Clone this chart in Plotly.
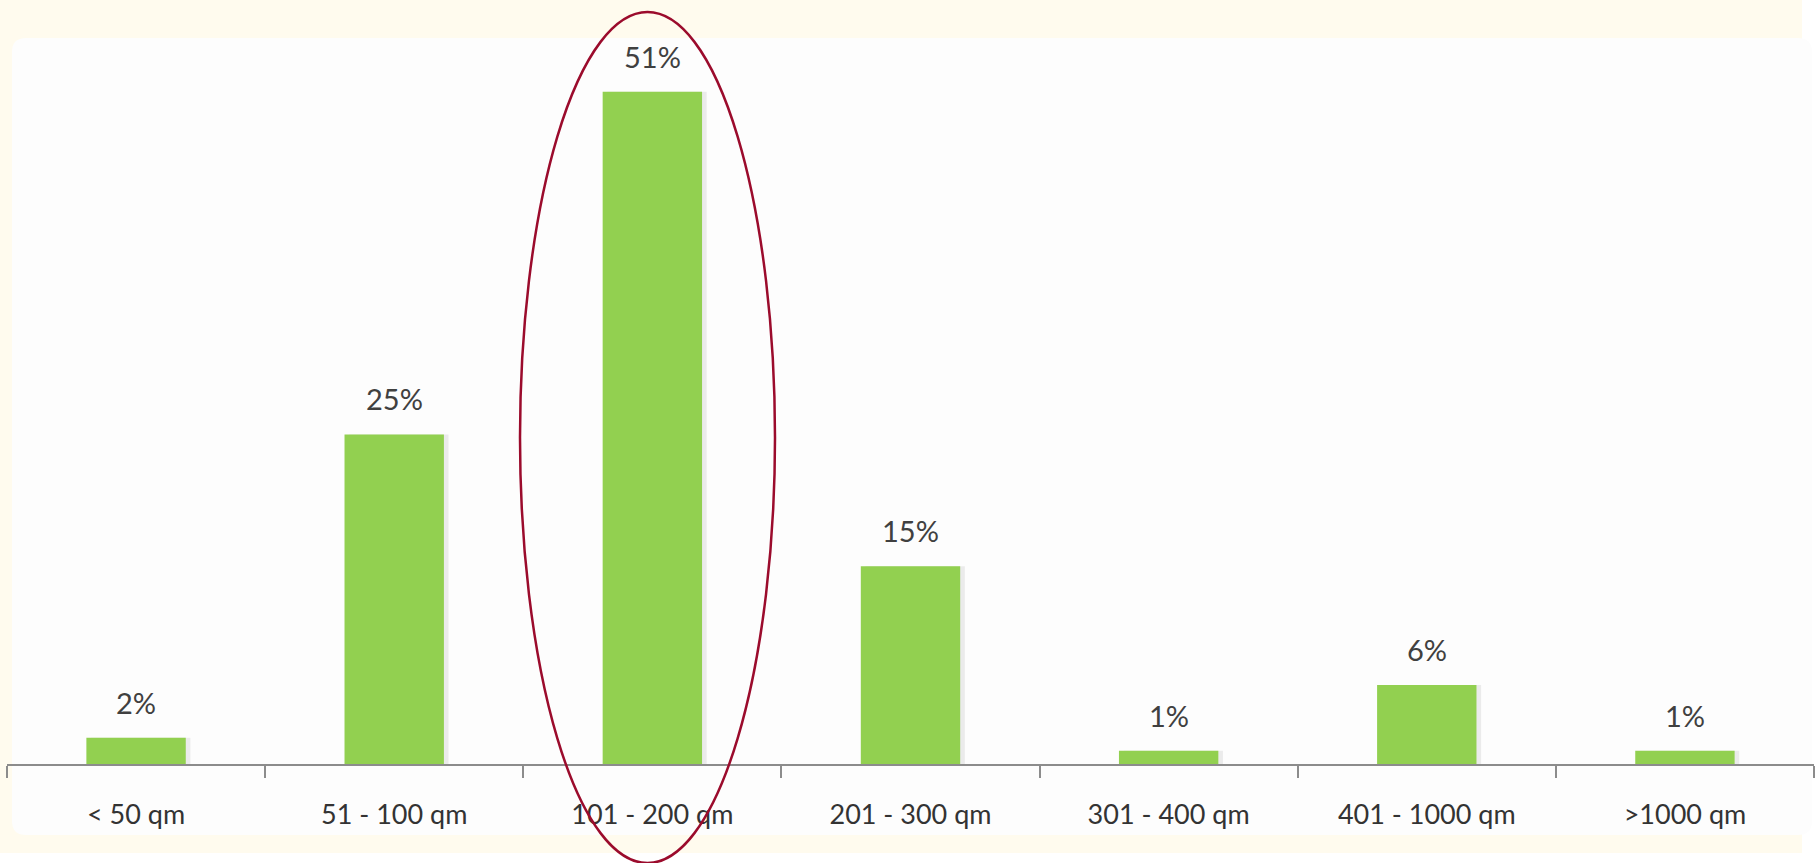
import plotly.graph_objects as go

# Share of properties by floor area
categories = ["< 50 qm", "51 - 100 qm", "101 - 200 qm", "201 - 300 qm",
              "301 - 400 qm", "401 - 1000 qm", ">1000 qm"]
shares = [2, 25, 51, 15, 1, 6, 1]
share_labels = ["2%", "25%", "51%", "15%", "1%", "6%", "1%"]

W, H = 1816, 863
ML, MR, MT, MB = 7, 2, 39, 99
PW, PH = W - ML - MR, H - MT - MB


def px(x):
    return (x - ML) / PW


def py(y):
    return 1 - (y - MT) / PH


BAR_W = 0.385
GREEN = "#92D050"

fig = go.Figure()

# soft drop shadow behind each bar
fig.add_trace(go.Bar(
    x=categories, y=shares, width=BAR_W, offset=-BAR_W / 2 + 0.018,
    marker=dict(color="rgba(0,0,0,0.07)", line=dict(width=0)),
    hoverinfo="skip", showlegend=False,
))
fig.add_trace(go.Bar(
    x=categories, y=shares, width=BAR_W, offset=-BAR_W / 2,
    marker=dict(color=GREEN, line=dict(width=0)),
    showlegend=False,
))

annotations = [
    dict(x=c, y=v, text=t, xref="x", yref="y", showarrow=False,
         yanchor="bottom", yshift=16,
         font=dict(family="Lato", size=29, color="#404040"))
    for c, v, t in zip(categories, shares, share_labels)
]


def rounded_rect(x0, y0, x1, y1, r):
    X0, X1 = px(x0), px(x1)
    Y0, Y1 = py(y0), py(y1)
    rx = r / PW
    ry = r / PH
    return (f"M {X0 + rx},{Y0} L {X1 - rx},{Y0} Q {X1},{Y0} {X1},{Y0 - ry} "
            f"L {X1},{Y1 + ry} Q {X1},{Y1} {X1 - rx},{Y1} "
            f"L {X0 + rx},{Y1} Q {X0},{Y1} {X0},{Y1 + ry} "
            f"L {X0},{Y0 - ry} Q {X0},{Y0} {X0 + rx},{Y0} Z")


shapes = [
    # cream backdrop
    dict(type="rect", xref="paper", yref="paper", layer="below",
         x0=px(0), x1=px(1802), y0=py(853), y1=py(0),
         fillcolor="#FFFBEE", line=dict(width=0)),
    # white card
    dict(type="path", xref="paper", yref="paper", layer="below",
         path=rounded_rect(12, 38, 1812, 835, 14),
         fillcolor="#FDFDFD", line=dict(width=0)),
    # highlight ellipse around the largest group
    dict(type="circle", xref="paper", yref="paper", layer="above",
         x0=px(520), x1=px(775), y0=py(863), y1=py(12),
         line=dict(color="#9B0B2C", width=2.5)),
]

fig.update_layout(
    width=W, height=H,
    margin=dict(l=ML, r=MR, t=MT, b=MB),
    paper_bgcolor="white",
    plot_bgcolor="rgba(0,0,0,0)",
    barmode="overlay",
    shapes=shapes,
    annotations=annotations,
    xaxis=dict(
        type="category", showgrid=False, zeroline=False,
        showline=True, linecolor="#8C8C8C", linewidth=2,
        ticks="outside", tickson="boundaries", ticklen=12,
        tickcolor="#8C8C8C", tickwidth=1.5,
        ticklabelstandoff=26,
        tickfont=dict(family="Lato", size=27, color="#333333"),
    ),
    yaxis=dict(range=[0, 55], visible=False, showgrid=False, zeroline=False),
)

fig.write_html("out.html")
